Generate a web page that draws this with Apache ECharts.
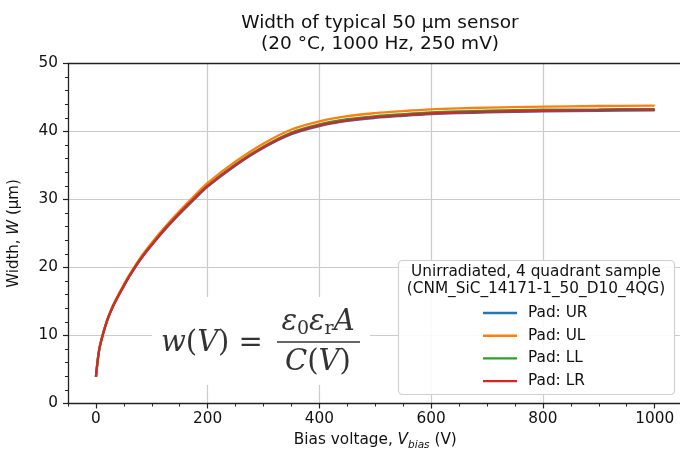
<!DOCTYPE html>
<html>
<head>
<meta charset="utf-8">
<script src="https://cdn.jsdelivr.net/npm/echarts@6/dist/echarts.min.js"></script>
<style>
  html, body { margin: 0; padding: 0; background: #fff; }
  #chart { width: 680px; height: 452px; }
</style>
</head>
<body>
<div id="chart"></div>
<script>
// Bias voltage steps (V)
const voltage = [0, 5, 10, 20, 30, 40, 50, 60, 80, 100, 125, 150, 175, 200, 250, 300, 350, 400, 450, 500, 550, 600, 650, 700, 800, 900, 1000];

// Depletion width per pad (µm)
const padUR = [3.9, 7.5, 9.4, 12.2, 14.2, 15.8, 17.3, 18.7, 21.2, 23.3, 25.7, 27.9, 29.95, 31.9, 35.0, 37.6, 39.6, 40.8, 41.55, 42.0, 42.3, 42.55, 42.7, 42.8, 42.95, 43.05, 43.1];
const padUL = [3.9, 7.5, 9.5, 12.3, 14.35, 16.0, 17.5, 18.95, 21.5, 23.65, 26.1, 28.35, 30.45, 32.45, 35.6, 38.25, 40.3, 41.5, 42.25, 42.7, 43.0, 43.25, 43.4, 43.5, 43.65, 43.75, 43.8];
const padLL = [3.9, 7.5, 9.4, 12.2, 14.25, 15.85, 17.35, 18.8, 21.3, 23.4, 25.85, 28.05, 30.1, 32.05, 35.2, 37.8, 39.85, 41.05, 41.8, 42.25, 42.55, 42.8, 42.95, 43.05, 43.2, 43.25, 43.3];
const padLR = [3.9, 7.5, 9.4, 12.2, 14.2, 15.8, 17.3, 18.75, 21.25, 23.35, 25.8, 28.0, 30.05, 32.0, 35.1, 37.7, 39.7, 40.9, 41.65, 42.1, 42.4, 42.65, 42.8, 42.9, 43.05, 43.15, 43.2];

const seriesNames = ['Pad: UR', 'Pad: UL', 'Pad: LL', 'Pad: LR'];
const seriesColors = ['#1f77b4', '#ff7f0e', '#2ca02c', '#d62728'];
const seriesValues = [padUR, padUL, padLL, padLR];

const xMajorTicks = [0, 200, 400, 600, 800, 1000];

const TXT = '#111';
const SPINE = '#222';
const GRIDC = '#cbcbcb';
const SANS = '"DejaVu Sans", sans-serif';
const SERIF = '"DejaVu Serif", "Liberation Serif", serif';
const MATH_FS = 29;
const FS = 15.3;

const chart = echarts.init(document.getElementById('chart'), null, { renderer: 'canvas' });

const series = seriesNames.map((name, i) => ({
  name: name,
  type: 'line',
  data: voltage.map((v, j) => [v, seriesValues[i][j]]),
  smooth: 0.35,
  showSymbol: false,
  symbol: 'none',
  color: seriesColors[i],
  lineStyle: { width: 2.3, color: seriesColors[i] },
  z: 5 + i,
  animation: false
}));

const option = {
  animation: false,
  backgroundColor: '#fff',
  title: {
    text: 'Width of typical 50 µm sensor\n(20 °C, 1000 Hz, 250 mV)',
    left: 375,
    top: 8,
    textAlign: 'center',
    textStyle: { fontFamily: SANS, fontSize: 18.5, fontWeight: 'normal', color: TXT, lineHeight: 21 }
  },
  grid: {
    left: 68, top: 63.5, width: 614.6, height: 340,
    containLabel: false,
    outerBoundsMode: 'none',
    show: false
  },
  legend: {
    data: seriesNames,
    orient: 'vertical',
    left: 483,
    top: 305,
    padding: 0,
    itemWidth: 34,
    itemHeight: 2.4,
    itemGap: 6.7,
    icon: 'rect',
    selectedMode: false,
    z: 12,
    textStyle: { fontFamily: SANS, fontSize: FS, color: TXT, lineHeight: 16, padding: [0, 0, 0, 6] }
  },
  xAxis: [
    {
      // minor ticks every 50 V, bottom spine
      type: 'value', min: -50, max: 1050, interval: 50, position: 'bottom',
      axisLine: { show: true, onZero: false, lineStyle: { color: SPINE, width: 1.3 } },
      axisTick: { show: true, length: 3, inside: false, lineStyle: { color: SPINE, width: 1 } },
      axisLabel: { show: false },
      splitLine: { show: false }
    },
    {
      // major ticks, labels and grid
      type: 'value', min: -50, max: 1050, interval: 50, position: 'bottom', offset: 0,
      axisLine: { show: false, onZero: false },
      axisTick: { show: true, length: 5, customValues: xMajorTicks, lineStyle: { color: SPINE, width: 1.2 } },
      axisLabel: {
        show: true, customValues: xMajorTicks, margin: 8,
        fontFamily: SANS, fontSize: FS, color: TXT,
        formatter: (v) => String(v)
      },
      splitLine: { show: true, showMinLine: false, showMaxLine: false, lineStyle: { color: GRIDC, width: 1.2 } },
      name: '{n|Bias voltage, }{i|V}{s|bias}{n| (V)}',
      nameLocation: 'middle',
      nameGap: 27,
      nameTextStyle: {
        rich: {
          n: { fontFamily: SANS, fontSize: FS, color: TXT, lineHeight: 20 },
          i: { fontFamily: SANS, fontSize: FS, fontStyle: 'italic', color: TXT, lineHeight: 20 },
          s: { fontFamily: SANS, fontSize: 10.5, fontStyle: 'italic', color: TXT, verticalAlign: 'bottom', lineHeight: 12 }
        }
      }
    },
    {
      // top spine
      type: 'value', min: -50, max: 1050, interval: 50, position: 'top',
      axisLine: { show: true, onZero: false, lineStyle: { color: SPINE, width: 1.3 } },
      axisTick: { show: false },
      axisLabel: { show: false },
      splitLine: { show: false }
    }
  ],
  yAxis: {
    type: 'value', min: 0, max: 50, interval: 10,
    axisLine: { show: true, onZero: false, lineStyle: { color: SPINE, width: 1.3 } },
    axisTick: { show: true, length: 5, lineStyle: { color: SPINE, width: 1.2 } },
    minorTick: { show: true, splitNumber: 5, length: 3, lineStyle: { color: SPINE, width: 1 } },
    axisLabel: { margin: 10, fontFamily: SANS, fontSize: FS, color: TXT },
    splitLine: { show: true, showMinLine: false, showMaxLine: false, lineStyle: { color: GRIDC, width: 1.2 } },
    name: '{n|Width, }{i|W}{n| (µm)}',
    nameLocation: 'middle',
    nameGap: 46,
    nameTextStyle: {
      rich: {
        n: { fontFamily: SANS, fontSize: 15, color: TXT },
        i: { fontFamily: SANS, fontSize: 15, fontStyle: 'italic', color: TXT }
      }
    }
  },
  graphic: [
    // backdrop of the formula
    { type: 'rect', shape: { x: 152, y: 297, width: 218, height: 88 }, style: { fill: '#fff' }, z: 3, silent: true },
    {
      type: 'text', x: 161, y: 343, z: 4, silent: true,
      style: {
        text: '{i|w}{n|(}{i|V}{n|) =}',
        verticalAlign: 'middle',
        rich: {
          i: { fontFamily: SERIF, fontSize: MATH_FS, fontStyle: 'italic', fill: '#333' },
          n: { fontFamily: SERIF, fontSize: MATH_FS, fill: '#333' }
        }
      }
    },
    {
      type: 'text', x: 318, y: 322, z: 4, silent: true,
      style: {
        text: '{i|ε}{s|0}{i|ε}{s|r}{i|A}',
        align: 'center', verticalAlign: 'middle',
        rich: {
          i: { fontFamily: SERIF, fontSize: MATH_FS, fontStyle: 'italic', fill: '#333', lineHeight: 34 },
          s: { fontFamily: SERIF, fontSize: 19, fill: '#333', verticalAlign: 'bottom', lineHeight: 14 }
        }
      }
    },
    { type: 'line', shape: { x1: 277, y1: 342, x2: 360, y2: 342 }, style: { stroke: '#333', lineWidth: 1.7 }, z: 4, silent: true },
    {
      type: 'text', x: 318, y: 362, z: 4, silent: true,
      style: {
        text: '{i|C}{n|(}{i|V}{n|)}',
        align: 'center', verticalAlign: 'middle',
        rich: {
          i: { fontFamily: SERIF, fontSize: MATH_FS, fontStyle: 'italic', fill: '#333' },
          n: { fontFamily: SERIF, fontSize: MATH_FS, fill: '#333' }
        }
      }
    },
    // legend frame and title
    {
      type: 'rect', shape: { x: 398.5, y: 260.5, width: 276, height: 134, r: 4 },
      style: { fill: 'rgba(255,255,255,0.9)', stroke: '#d0d0d0', lineWidth: 1.2 }, z: 10, silent: true
    },
    {
      type: 'text', x: 536, y: 272.5, z: 11, silent: true,
      style: { text: 'Unirradiated, 4 quadrant sample', fontFamily: SANS, fontSize: FS, fill: TXT, align: 'center', verticalAlign: 'middle' }
    },
    {
      type: 'text', x: 536, y: 289, z: 11, silent: true,
      style: { text: '(CNM_SiC_14171-1_50_D10_4QG)', fontFamily: SANS, fontSize: FS, fill: TXT, align: 'center', verticalAlign: 'middle' }
    }
  ],
  series: series
};

chart.setOption(option);
</script>
</body>
</html>
